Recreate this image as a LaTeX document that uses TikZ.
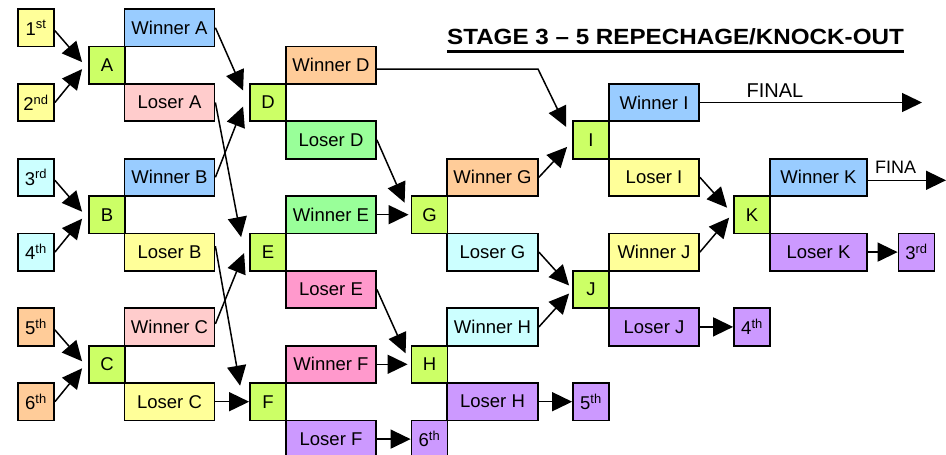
\documentclass[tikz,border=0pt]{standalone}
\usepackage{fontspec}
\setmainfont{Liberation Sans}
\usetikzlibrary{arrows.meta,calc}
\definecolor{cyel}{HTML}{FFFF99}
\definecolor{ccyan}{HTML}{CCFFFF}
\definecolor{corange}{HTML}{FFCC99}
\definecolor{clime}{HTML}{CCFF66}
\definecolor{cblue}{HTML}{99CCFF}
\definecolor{cpink}{HTML}{FFCCCC}
\definecolor{cgreen}{HTML}{99FF99}
\definecolor{cmag}{HTML}{FF99CC}
\definecolor{cpurp}{HTML}{CC99FF}
\tikzset{
  bx/.style={draw=black, line width=1.8pt, inner sep=0pt, minimum height=37.4pt, font=\fontsize{18.5}{20}\selectfont, text=black},
  seed/.style={bx, minimum width=36pt},
  mt/.style={bx, fill=clime, minimum width=36pt},
  wl/.style={bx, minimum width=90pt},
  arr/.style={line width=1.5pt, -{Triangle[length=20pt,width=19pt]}},
}
\begin{document}
\begin{tikzpicture}[x=1pt,y=-1pt]
\clip (0,0) rectangle (946,455);
\fill[white] (0,0) rectangle (946,455);
% seeds
\node[seed, fill=cyel] (s1) at (36,27.7) {1\textsuperscript{st}};
\node[seed, fill=cyel] (s2) at (36,102.5) {2\textsuperscript{nd}};
\node[seed, fill=ccyan] (s3) at (36,177.3) {3\textsuperscript{rd}};
\node[seed, fill=ccyan] (s4) at (36,252.1) {4\textsuperscript{th}};
\node[seed, fill=corange] (s5) at (36,326.9) {5\textsuperscript{th}};
\node[seed, fill=corange] (s6) at (36,401.7) {6\textsuperscript{th}};
% column 1
\node[mt] (A) at (107,65.1) {A};
\node[mt] (B) at (107,214.7) {B};
\node[mt] (C) at (107,364.3) {C};
\node[wl, fill=cblue] (WA) at (169.5,27.7) {Winner A};
\node[wl, fill=cpink] (LA) at (169.5,102.5) {Loser A};
\node[wl, fill=cblue] (WB) at (169.5,177.3) {Winner B};
\node[wl, fill=cyel] (LB) at (169.5,252.1) {Loser B};
\node[wl, fill=cpink] (WC) at (169.5,326.9) {Winner C};
\node[wl, fill=cyel] (LC) at (169.5,401.7) {Loser C};
% column 2
\node[mt] (D) at (268,102.5) {D};
\node[mt] (E) at (268,252.1) {E};
\node[mt] (F) at (268,401.7) {F};
\node[wl, fill=corange] (WD) at (331,65.1) {Winner D};
\node[wl, fill=cgreen] (LD) at (331,139.9) {Loser D};
\node[wl, fill=cgreen] (WE) at (331,214.7) {Winner E};
\node[wl, fill=cmag] (LE) at (331,289.5) {Loser E};
\node[wl, fill=cmag] (WF) at (331,364.3) {Winner F};
\node[wl, fill=cpurp] (LF) at (331,439.1) {Loser F};
% column 3
\node[mt] (G) at (429.5,214.7) {G};
\node[mt] (H) at (429.5,364.3) {H};
\node[seed, fill=cpurp] (p6) at (429.5,439.1) {6\textsuperscript{th}};
\node[wl, fill=corange, minimum width=91pt] (WG) at (492.5,177.3) {Winner G};
\node[wl, fill=ccyan, minimum width=91pt] (LG) at (492.5,252.1) {Loser G};
\node[wl, fill=ccyan, minimum width=91pt] (WH) at (492.5,326.9) {Winner H};
\node[wl, fill=cpurp, minimum width=91pt] (LH) at (492.5,401.7) {Loser H};
% column 4
\node[mt] (I) at (591,139.9) {I};
\node[mt] (J) at (591,289.5) {J};
\node[seed, fill=cpurp] (p5) at (591,401.7) {5\textsuperscript{th}};
\node[wl, fill=cblue] (WI) at (654,102.5) {Winner I};
\node[wl, fill=cyel] (LI) at (654,177.3) {Loser I};
\node[wl, fill=cyel] (WJ) at (654,252.1) {Winner J};
\node[wl, fill=cpurp] (LJ) at (654,326.9) {Loser J};
% column 5
\node[mt] (K) at (752,214.7) {K};
\node[seed, fill=cpurp] (p4) at (752,326.9) {4\textsuperscript{th}};
\node[wl, fill=cblue, minimum width=97pt] (WK) at (818.5,177.3) {Winner K};
\node[wl, fill=cpurp, minimum width=97pt] (LK) at (818.5,252.1) {Loser K};
\node[seed, fill=cpurp] (p3) at (916.5,252.1) {3\textsuperscript{rd}};
% title
\node[font=\bfseries\fontsize{22}{26}\selectfont, inner sep=0pt, anchor=base] (title) at (675.5,45) {\scalebox{1.1}[1]{STAGE 3 – 5 REPECHAGE/KNOCK-OUT}};
\draw[line width=2.2pt] ($(title.base west)+(0,6.5)$) -- ($(title.base east)+(0,6.5)$);
% labels
\node[font=\fontsize{20}{22}\selectfont, inner sep=0pt, anchor=base] (lfinal) at (775,97) {FINAL};
\node[font=\fontsize{18}{20}\selectfont, inner sep=0pt, anchor=base west] (lfina) at (875,173) {FINA};
\coordinate (endI) at (922,102.5);
\coordinate (endK) at (946,180.3);
\coordinate (bendD) at (538,69);
% connectors
\draw[arr] ($(s1.east)+(0,3)$) -- ($(A.west)+(-6,-3)$);
\draw[arr] (s2.east) -- ($(A.west)+(-6,4)$);
\draw[arr] ($(s3.east)+(0,3)$) -- ($(B.west)+(-6,-3)$);
\draw[arr] (s4.east) -- ($(B.west)+(-6,4)$);
\draw[arr] ($(s5.east)+(0,3)$) -- ($(C.west)+(-6,-3)$);
\draw[arr] (s6.east) -- ($(C.west)+(-6,4)$);
\draw[arr] (WA.east) -- ($(D.west)+(-6,-12)$);
\draw[arr] (WB.east) -- ($(D.west)+(-6,4)$);
\draw[arr] (LA.east) -- ($(E.west)+(-8,-15)$);
\draw[arr] ($(WC.east)+(0,-3)$) -- ($(E.west)+(-5,1)$);
\draw[arr] ($(LB.east)+(0,-6)$) -- ($(F.west)+(-9,-16)$);
\draw[arr] (LC.east) -- (F.west);
\draw[arr] (LD.east) -- ($(G.west)+(-6,-12)$);
\draw[arr] (WE.east) -- ($(G.west)+(-2,0)$);
\draw[arr] (LE.east) -- ($(H.west)+(-5,-11)$);
\draw[arr] (WF.east) -- ($(H.west)+(-3,0)$);
\draw[arr] (LF.east) -- (p6.west);
\draw[arr] ($(WD.east)+(0,4)$) -- (bendD) -- ($(I.west)+(-6,-13)$);
\draw[arr] (WG.east) -- ($(I.west)+(-5,7)$);
\draw[arr] (LG.east) -- ($(J.west)+(-3,-4)$);
\draw[arr] (WH.east) -- ($(J.west)+(-3,4)$);
\draw[arr] (LH.east) -- (p5.west);
\draw[arr] (WI.east) -- (endI);
\draw[arr] (LI.east) -- ($(K.west)+(-6,-7)$);
\draw[arr] (WJ.east) -- ($(K.west)+(-4,3)$);
\draw[arr] (LJ.east) -- (p4.west);
\draw[arr] ($(WK.east)+(0,3)$) -- (endK);
\draw[arr] (LK.east) -- (p3.west);
\end{tikzpicture}
\end{document}
